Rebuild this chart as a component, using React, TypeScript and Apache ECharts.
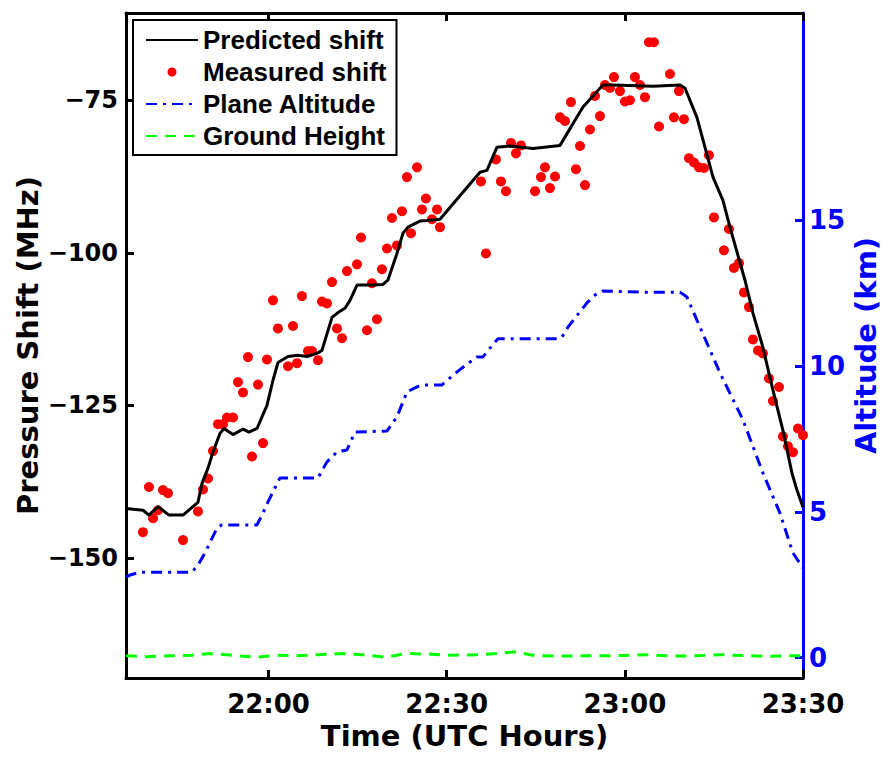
import React, { useEffect, useRef } from 'react';
import * as echarts from 'echarts';

// Time is in minutes after 21:00 UTC
const xTicks = [60, 90, 120, 150];
const leftTicks = [-150, -125, -100, -75];
const rightTicks = [0, 5, 10, 15];

const predTime = [36, 38.86, 39.87, 41.39, 43.24, 45.6, 48.12, 48.8, 49.8, 50.65, 51.83, 52.5, 54.02, 55.7, 56.71, 58.06, 59.74, 60.75, 61.59, 63.28, 64.96, 66.48, 68.16, 69.0, 70.69, 71.7, 72.87, 73.72, 74.9, 77.59, 79.27, 80.1, 81.63, 82.64, 83.48, 85.5, 86.68, 88.87, 95.6, 96.78, 98.47, 100.66, 104.53, 109.08, 112.95, 116.32, 118.0, 124.73, 129.28, 130.12, 132.14, 134.84, 136.52, 137.7, 140.23, 141.57, 143.25, 144.94, 146.62, 148.14, 148.98, 150];
const predShift = [-141.9, -142.2, -143.0, -141.6, -143.0, -143.0, -140.9, -137.8, -135.3, -132.7, -129.6, -128.8, -129.8, -128.9, -129.4, -128.8, -125.0, -120.9, -118.0, -117.0, -116.8, -117.0, -116.5, -116.0, -110.6, -109.8, -109.1, -107.8, -105.3, -105.3, -105.2, -104.5, -100.1, -96.8, -95.8, -94.8, -94.7, -94.5, -86.8, -86.5, -82.7, -82.5, -82.9, -82.4, -76.1, -72.5, -72.5, -72.7, -72.5, -73.0, -77.8, -87.6, -91.4, -95.8, -104.5, -109.9, -115.5, -122.5, -129.1, -136.1, -138.9, -141.7];

const measTime = [38.86, 39.87, 40.55, 41.39, 42.23, 43.07, 45.6, 48.12, 48.97, 49.81, 50.65, 51.49, 52.33, 53.01, 54.02, 54.86, 55.7, 56.54, 57.22, 58.23, 59.07, 59.74, 60.75, 61.59, 63.28, 64.12, 64.79, 65.63, 66.65, 67.32, 68.33, 69.0, 69.84, 70.69, 71.53, 72.37, 73.21, 74.9, 75.57, 76.58, 77.42, 78.26, 79.1, 79.95, 80.79, 81.63, 82.47, 83.31, 83.99, 85.0, 85.84, 86.51, 87.52, 88.37, 88.87, 95.77, 96.61, 98.3, 99.14, 99.98, 100.83, 101.67, 102.51, 104.87, 105.88, 106.55, 107.39, 108.24, 109.08, 109.92, 110.93, 111.77, 112.45, 113.29, 114.13, 114.97, 115.81, 116.65, 117.5, 118.17, 119.18, 120.02, 120.86, 121.7, 122.55, 123.39, 124.06, 124.9, 125.75, 127.6, 128.27, 129.11, 129.96, 130.8, 131.64, 132.48, 133.32, 134.16, 135.01, 136.69, 137.53, 138.37, 139.22, 140.06, 140.9, 141.57, 142.42, 143.25, 144.27, 144.94, 145.95, 146.62, 147.47, 148.31, 149.15, 150];
const measShift = [-145.8, -138.4, -143.5, -142.2, -138.9, -139.4, -147.1, -142.4, -138.8, -137.0, -132.5, -128.1, -128.1, -127.0, -127.0, -121.2, -122.9, -117.1, -133.4, -121.6, -131.2, -117.5, -107.8, -112.4, -118.6, -112.0, -118.1, -107.1, -116.1, -116.1, -117.6, -108.0, -108.3, -104.8, -112.4, -114.0, -103.0, -101.9, -97.5, -112.7, -105.0, -110.9, -102.7, -99.3, -94.3, -98.8, -93.2, -87.6, -96.8, -86.0, -92.9, -91.1, -94.5, -92.9, -95.8, -88.3, -100.1, -84.7, -88.3, -89.9, -82.0, -83.7, -82.4, -89.9, -87.6, -86.0, -89.4, -87.5, -77.8, -78.4, -75.3, -86.3, -82.5, -88.9, -79.8, -74.3, -77.6, -72.5, -73.0, -71.2, -73.5, -75.2, -75.0, -71.2, -72.5, -74.5, -65.5, -65.5, -79.3, -70.7, -77.8, -73.5, -78.1, -84.5, -85.2, -86.0, -86.1, -84.0, -94.2, -99.6, -96.1, -102.5, -101.7, -106.5, -108.9, -114.2, -116.0, -116.5, -120.6, -124.3, -122.0, -130.1, -131.7, -132.7, -128.8, -129.9];

const altTime = [36, 36.67, 38.36, 47.11, 48.12, 49.3, 51.32, 52.16, 58.06, 59.07, 59.91, 61.93, 68.33, 69.84, 71.53, 73.21, 74.56, 79.95, 81.63, 83.31, 85.0, 86.01, 89.21, 90.56, 92.58, 95.1, 96.11, 98.13, 98.64, 108.57, 109.41, 110.42, 113.62, 114.97, 116.32, 122.55, 129.28, 130.46, 132.14, 136.02, 139.89, 143.25, 146.11, 148.3, 150];
const altKm = [2.76, 2.83, 2.93, 2.93, 3.17, 3.59, 4.44, 4.55, 4.55, 4.96, 5.34, 6.16, 6.16, 6.71, 7.05, 7.12, 7.73, 7.77, 8.25, 9.11, 9.28, 9.35, 9.35, 9.59, 9.93, 10.31, 10.31, 10.82, 10.93, 10.93, 10.99, 11.33, 12.16, 12.43, 12.57, 12.53, 12.53, 12.36, 11.57, 9.76, 8.15, 6.33, 4.96, 3.59, 3.07];

const groundTime = [36, 39.4, 43.3, 47.1, 50.3, 53.9, 57.9, 61.3, 64.6, 68.5, 72.4, 75.7, 79.8, 83.1, 87, 91, 95, 98.5, 101.5, 104.5, 108, 112, 116, 120, 124, 128, 132, 136, 140, 144, 147, 150];
const groundKm = [0.06, 0.03, 0.06, 0.08, 0.14, 0.08, 0.01, 0.08, 0.06, 0.1, 0.14, 0.1, 0.01, 0.14, 0.12, 0.08, 0.1, 0.14, 0.2, 0.08, 0.05, 0.06, 0.06, 0.07, 0.1, 0.05, 0.06, 0.1, 0.07, 0.04, 0.06, 0.06];

const zip = (a: number[], b: number[]) => a.map((v, i) => [v, b[i]]);

const AXIS_FONT = 'DejaVu Sans';
const LEG_FONT = 'Liberation Sans';

const fmtTime = (v: number) => {
  const h = 21 + Math.floor(v / 60);
  const m = Math.round(v % 60);
  return `${h}:${m < 10 ? '0' + m : m}`;
};

export default function App() {
  const ref = useRef<HTMLDivElement>(null);
  useEffect(() => {
    if (!ref.current) return;
    const chart = echarts.init(ref.current, undefined, { renderer: 'svg' });
    const black = '#000000';
    const blue = '#0000ff';
    const xTickStyle = { fontFamily: AXIS_FONT, fontWeight: 'bold' as const, fontSize: 26, color: black };
    const yTickStyle = { fontFamily: AXIS_FONT, fontWeight: 'bold' as const, fontSize: 24, color: black };
    const nameStyle = { fontFamily: AXIS_FONT, fontWeight: 'bold' as const, fontSize: 29, color: black };
    const hiddenSymbol = { opacity: 0 };
    chart.setOption({
      animation: false,
      backgroundColor: '#ffffff',
      grid: { left: 126, right: 89, top: 13, bottom: 80, containLabel: false, outerBoundsMode: 'none' },
      legend: {
        orient: 'vertical',
        left: 133,
        top: 20,
        itemWidth: 52,
        itemHeight: 9,
        itemGap: 6,
        padding: [7, 10, 6, 12],
        borderColor: black,
        borderWidth: 2,
        backgroundColor: '#ffffff',
        textStyle: { fontFamily: LEG_FONT, fontWeight: 'bold', fontSize: 26, color: black },
        data: [
          { name: 'Predicted shift', itemStyle: hiddenSymbol },
          { name: 'Measured shift', icon: 'circle' },
          { name: 'Plane Altitude', itemStyle: hiddenSymbol },
          { name: 'Ground Height', itemStyle: hiddenSymbol },
        ],
      },
      xAxis: [
        {
          type: 'value',
          min: 36,
          max: 150,
          position: 'bottom',
          axisLine: { onZero: false, lineStyle: { color: black, width: 3 } },
          axisTick: { inside: true, length: 8, lineStyle: { color: black, width: 3 }, customValues: xTicks },
          axisLabel: { ...xTickStyle, margin: 13, customValues: xTicks, formatter: (v: number) => fmtTime(v) },
          splitLine: { show: false },
          name: 'Time (UTC Hours)',
          nameLocation: 'middle',
          nameGap: 43,
          nameMoveOverlap: false,
          nameTextStyle: { ...nameStyle },
        },
        {
          type: 'value',
          min: 36,
          max: 150,
          position: 'top',
          axisLine: { onZero: false, lineStyle: { color: black, width: 3 } },
          axisTick: { inside: true, length: 8, lineStyle: { color: black, width: 3 }, customValues: xTicks },
          axisLabel: { show: false },
          splitLine: { show: false },
        },
      ],
      yAxis: [
        {
          type: 'value',
          min: -169.7,
          max: -60.7,
          position: 'left',
          axisLine: { onZero: false, lineStyle: { color: black, width: 3 } },
          axisTick: { inside: true, length: 8, lineStyle: { color: black, width: 3 }, customValues: leftTicks },
          axisLabel: {
            ...yTickStyle,
            margin: 8,
            customValues: leftTicks,
            formatter: (v: number) => (v < 0 ? '\u2212' + Math.abs(v) : String(v)),
          },
          splitLine: { show: false },
          name: 'Pressure Shift (MHz)',
          nameLocation: 'middle',
          nameGap: 84,
          nameMoveOverlap: false,
          nameTextStyle: { ...nameStyle },
        },
        {
          type: 'value',
          min: -0.7,
          max: 22.1,
          position: 'right',
          axisLine: { onZero: false, lineStyle: { color: blue, width: 3 } },
          axisTick: { inside: true, length: 8, lineStyle: { color: blue, width: 3 }, customValues: rightTicks },
          axisLabel: { ...yTickStyle, fontSize: 26, color: blue, margin: 6, customValues: rightTicks },
          splitLine: { show: false },
          name: 'Altitude (km)',
          nameLocation: 'middle',
          nameGap: 48,
          nameMoveOverlap: false,
          nameTextStyle: { ...nameStyle, color: blue },
        },
      ],
      series: [
        {
          name: 'Plane Altitude',
          type: 'line',
          xAxisIndex: 0,
          yAxisIndex: 1,
          data: zip(altTime, altKm),
          symbol: 'none',
          showSymbol: false,
          color: blue,
          lineStyle: { color: blue, width: 3, type: [11, 6, 3, 6] },
        },
        {
          name: 'Ground Height',
          type: 'line',
          xAxisIndex: 0,
          yAxisIndex: 1,
          data: zip(groundTime, groundKm),
          symbol: 'none',
          showSymbol: false,
          color: '#00ff00',
          lineStyle: { color: '#00ff00', width: 3, type: [11, 8] },
        },
        {
          name: 'Predicted shift',
          type: 'line',
          xAxisIndex: 0,
          yAxisIndex: 0,
          data: zip(predTime, predShift),
          symbol: 'none',
          showSymbol: false,
          color: black,
          lineStyle: { color: black, width: 3 },
        },
        {
          name: 'Measured shift',
          type: 'scatter',
          xAxisIndex: 0,
          yAxisIndex: 0,
          data: zip(measTime, measShift),
          symbol: 'circle',
          symbolSize: 10,
          itemStyle: { color: '#ff0000', opacity: 1 },
        },
      ],
    });
    return () => chart.dispose();
  }, []);
  return <div ref={ref} style={{ position: 'fixed', left: 0, top: 0, width: 892, height: 758 }} />;
}
